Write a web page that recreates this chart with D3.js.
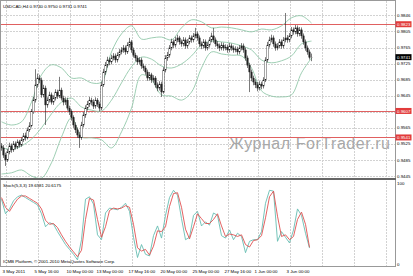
<!DOCTYPE html>
<head>
    <meta charset='utf-8'>
    <title>USDCAD,H4</title>
    <script src='https://d3js.org/d3.v7.min.js'></script>
    <style>
        html, body {
            margin: 0px;
            padding: 0px;
            background: #fff;
        }
        svg { display: block; }
        text { font-family: 'Liberation Sans', Arial, sans-serif; }
    </style>
</head>
<body>
<div id='chart'></div>
<script>
    // H4 candles, oldest first (open = previous close)
    var firstOpen = 0.9520;
    var closes = [0.9515,0.9497,0.9485,0.9505,0.9520,0.9510,0.9525,0.9517,0.9530,0.9522,
        0.9535,0.9545,0.9540,0.9560,0.9570,0.9605,0.9634,0.9672,0.9689,0.9684,
        0.9647,0.9664,0.9622,0.9634,0.9647,0.9629,0.9639,0.9654,0.9644,0.9659,
        0.9639,0.9629,0.9634,0.9614,0.9605,0.9590,0.9572,0.9560,0.9547,0.9540,
        0.9572,0.9597,0.9614,0.9624,0.9634,0.9629,0.9619,0.9634,0.9624,0.9614,
        0.9672,0.9704,0.9721,0.9734,0.9729,0.9739,0.9744,0.9734,0.9746,0.9754,
        0.9759,0.9764,0.9754,0.9771,0.9779,0.9759,0.9746,0.9739,0.9729,0.9734,
        0.9719,0.9714,0.9704,0.9689,0.9697,0.9684,0.9689,0.9672,0.9664,0.9674,
        0.9654,0.9709,0.9739,0.9746,0.9764,0.9779,0.9771,0.9784,0.9789,0.9779,
        0.9774,0.9784,0.9769,0.9779,0.9789,0.9784,0.9794,0.9799,0.9789,0.9774,
        0.9769,0.9779,0.9764,0.9771,0.9784,0.9794,0.9784,0.9774,0.9769,0.9764,
        0.9771,0.9764,0.9766,0.9759,0.9769,0.9764,0.9759,0.9761,0.9754,0.9764,
        0.9769,0.9759,0.9739,0.9721,0.9704,0.9689,0.9679,0.9672,0.9664,0.9674,
        0.9669,0.9684,0.9734,0.9771,0.9784,0.9789,0.9774,0.9764,0.9769,0.9779,
        0.9769,0.9784,0.9789,0.9784,0.9794,0.9809,0.9804,0.9814,0.9799,0.9809,
        0.9794,0.9779,0.9764,0.9754,0.9740,0.9741];
    var highs = [0.9527,0.9522,0.9503,0.9512,0.9528,0.9526,0.9532,0.9531,0.9536,0.9535,
        0.9541,0.9552,0.9553,0.9566,0.9579,0.9612,0.9642,0.9711,0.9700,0.9697,
        0.9690,0.9672,0.9670,0.9641,0.9655,0.9653,0.9646,0.9661,0.9660,0.9692,
        0.9665,0.9645,0.9641,0.9640,0.9620,0.9611,0.9596,0.9579,0.9566,0.9555,
        0.9580,0.9604,0.9621,0.9632,0.9642,0.9640,0.9636,0.9641,0.9639,0.9630,
        0.9680,0.9712,0.9729,0.9742,0.9740,0.9747,0.9751,0.9750,0.9753,0.9761,
        0.9766,0.9771,0.9770,0.9778,0.9789,0.9784,0.9765,0.9752,0.9745,0.9741,
        0.9740,0.9725,0.9720,0.9710,0.9704,0.9702,0.9696,0.9694,0.9678,0.9681,
        0.9680,0.9716,0.9746,0.9754,0.9771,0.9787,0.9785,0.9792,0.9797,0.9794,
        0.9785,0.9791,0.9790,0.9786,0.9796,0.9795,0.9801,0.9814,0.9805,0.9795,
        0.9780,0.9786,0.9785,0.9778,0.9791,0.9802,0.9814,0.9790,0.9781,0.9775,
        0.9778,0.9777,0.9773,0.9772,0.9776,0.9775,0.9770,0.9768,0.9767,0.9771,
        0.9776,0.9775,0.9765,0.9745,0.9727,0.9710,0.9695,0.9686,0.9679,0.9681,
        0.9680,0.9691,0.9741,0.9779,0.9792,0.9797,0.9795,0.9780,0.9776,0.9786,
        0.9785,0.9791,0.9851,0.9796,0.9801,0.9816,0.9815,0.9821,0.9820,0.9816,
        0.9815,0.9800,0.9785,0.9770,0.9760,0.9750];
    var lows = [0.9508,0.9490,0.9470,0.9480,0.9499,0.9503,0.9505,0.9511,0.9512,0.9516,
        0.9518,0.9530,0.9533,0.9536,0.9555,0.9566,0.9600,0.9628,0.9665,0.9676,
        0.9640,0.9641,0.9572,0.9615,0.9628,0.9623,0.9622,0.9633,0.9637,0.9639,
        0.9633,0.9621,0.9622,0.9608,0.9597,0.9583,0.9565,0.9552,0.9540,0.9515,
        0.9535,0.9566,0.9590,0.9608,0.9617,0.9621,0.9612,0.9613,0.9617,0.9606,
        0.9609,0.9667,0.9697,0.9715,0.9721,0.9723,0.9733,0.9727,0.9728,0.9740,
        0.9748,0.9752,0.9747,0.9749,0.9765,0.9752,0.9740,0.9731,0.9722,0.9723,
        0.9712,0.9707,0.9697,0.9682,0.9683,0.9677,0.9678,0.9665,0.9656,0.9658,
        0.9642,0.9650,0.9703,0.9732,0.9740,0.9758,0.9764,0.9765,0.9778,0.9772,
        0.9767,0.9768,0.9762,0.9763,0.9773,0.9777,0.9778,0.9788,0.9782,0.9767,
        0.9761,0.9763,0.9757,0.9758,0.9765,0.9778,0.9777,0.9767,0.9762,0.9756,
        0.9758,0.9757,0.9758,0.9752,0.9753,0.9757,0.9752,0.9753,0.9747,0.9748,
        0.9758,0.9752,0.9732,0.9714,0.9654,0.9681,0.9671,0.9664,0.9656,0.9658,
        0.9661,0.9663,0.9679,0.9728,0.9765,0.9778,0.9767,0.9757,0.9758,0.9763,
        0.9762,0.9763,0.9778,0.9777,0.9778,0.9788,0.9797,0.9798,0.9792,0.9793,
        0.9787,0.9772,0.9757,0.9747,0.9735,0.9731];

    // Bollinger bands read every 5 bars
    var bandStep = 5;
    var bandUpper = [0.9580,0.9572,0.9580,0.9629,0.9697,0.9722,0.9714,0.9689,0.9689,0.9677,
        0.9679,0.9754,0.9799,0.9819,0.9786,0.9789,0.9791,0.9784,0.9814,0.9834,
        0.9829,0.9814,0.9816,0.9814,0.9809,0.9804,0.9811,0.9809,0.9819,0.9839,0.9844,0.9826];
    var bandMiddle = [0.9515,0.9512,0.9520,0.9537,0.9565,0.9600,0.9629,0.9639,0.9617,0.9609,
        0.9607,0.9634,0.9677,0.9717,0.9741,0.9736,0.9719,0.9714,0.9724,0.9744,
        0.9771,0.9781,0.9779,0.9776,0.9769,0.9759,0.9734,0.9727,0.9732,0.9744,0.9774,0.9781];
    var bandLower = [0.9450,0.9453,0.9460,0.9445,0.9440,0.9478,0.9542,0.9590,0.9542,0.9540,
        0.9535,0.9515,0.9555,0.9614,0.9697,0.9684,0.9647,0.9644,0.9634,0.9654,
        0.9714,0.9754,0.9749,0.9746,0.9744,0.9714,0.9657,0.9644,0.9642,0.9647,0.9702,0.9739];

    // Stochastic (5,3,3) read every 2 bars
    var stochStep = 2;
    var stochMain = [80,62,68,78,83,85,82,79,76,73, 62,46,51,49,40,32,24,18,12,5,
        30,80,83,74,36,30,63,69,68,67, 70,75,65,33,8,24,12,10,35,47,
        32,60,82,91,85,56,30,33,60,65, 47,52,48,63,60,35,32,42,30,38,
        34,14,28,30,30,40,75,91,90,28, 40,33,26,42,68,60,38,19.66];
    var stochSignal = [82,70,65,73,80,84,84,81,78,75, 68,54,49,50,45,36,28,21,15,9,
        17,55,81,79,55,33,46,66,69,68, 69,72,70,49,20,16,18,11,22,41,
        40,46,71,87,88,70,43,31,46,62, 56,50,50,55,62,47,34,37,36,34,
        36,24,21,29,30,35,57,83,90,59, 34,36,30,34,55,64,49,20.62];

    var priceTicks = [0.9846, 0.9805, 0.9765, 0.9725, 0.9685, 0.9645, 0.9605, 0.9565, 0.9525, 0.9485, 0.9445];
    var levels = [0.9823, 0.9607, 0.9541];
    var lastPrice = 0.9741;
    var gridBars = [2, 18, 34, 49, 65, 81, 97, 113, 128, 144, 160, 176, 192];
    var timeLabels = ['3 May 2011', '5 May 16:00', '10 May 00:00', '13 May 00:00', '17 May 16:00',
        '20 May 00:00', '25 May 00:00', '27 May 16:00', '1 Jun 00:00', '3 Jun 00:00'];

    var width = 413, height = 276;
    var right = 395;
    var svg = d3.select('#chart').append('svg')
        .attr('width', width)
        .attr('height', height);

    var x = d3.scaleLinear().domain([0, closes.length - 1]).range([1.5, 311.5]);
    var y = d3.scaleLinear().domain([0.9445, 0.9846]).range([176, 15]);
    var ys = d3.scaleLinear().domain([0, 100]).range([264, 183]);

    var defs = svg.append('defs');
    defs.append('clipPath').attr('id', 'clipMain')
        .append('rect').attr('x', 0).attr('y', 1).attr('width', right).attr('height', 177);
    defs.append('clipPath').attr('id', 'clipStoch')
        .append('rect').attr('x', 0).attr('y', 181).attr('width', right).attr('height', 85);

    // grid
    var grid = svg.append('g')
        .attr('stroke', '#d2d2d2')
        .attr('stroke-dasharray', '2,1')
        .attr('stroke-width', 1);
    grid.selectAll('line.v')
        .data(gridBars)
        .enter().append('line')
        .attr('x1', function(d) { return Math.round(x(d)) + 0.5; })
        .attr('x2', function(d) { return Math.round(x(d)) + 0.5; })
        .attr('y1', 1).attr('y2', 178);
    grid.selectAll('line.vs')
        .data(gridBars)
        .enter().append('line')
        .attr('x1', function(d) { return Math.round(x(d)) + 0.5; })
        .attr('x2', function(d) { return Math.round(x(d)) + 0.5; })
        .attr('y1', 181).attr('y2', 266);
    grid.selectAll('line.h')
        .data(priceTicks)
        .enter().append('line')
        .attr('x1', 1).attr('x2', right)
        .attr('y1', function(d) { return Math.round(y(d)) + 0.5; })
        .attr('y2', function(d) { return Math.round(y(d)) + 0.5; });

    // watermark
    svg.append('text')
        .attr('x', 229)
        .attr('y', 148.5)
        .attr('font-size', 16)
        .attr('textLength', 161)
        .attr('fill', '#a8a8a8')
        .text('Журнал ForTrader.ru');

    var main = svg.append('g').attr('clip-path', 'url(#clipMain)');

    // horizontal levels
    main.selectAll('line.level')
        .data(levels)
        .enter().append('line')
        .attr('x1', 0).attr('x2', right)
        .attr('y1', function(d) { return Math.round(y(d)) + 0.5; })
        .attr('y2', function(d) { return Math.round(y(d)) + 0.5; })
        .attr('stroke', '#e06060')
        .attr('stroke-width', 1);

    // bollinger bands
    var band = d3.line()
        .x(function(d, i) { return x(i * bandStep); })
        .y(function(d) { return y(d); })
        .curve(d3.curveCatmullRom);
    [bandUpper, bandMiddle, bandLower].forEach(function(b) {
        main.append('path')
            .attr('d', band(b))
            .attr('fill', 'none')
            .attr('stroke', '#93c8aa')
            .attr('stroke-width', 0.9);
    });

    // candles
    var bars = closes.map(function(c, i) {
        return { i: i, o: i ? closes[i - 1] : firstOpen, h: highs[i], l: lows[i], c: c };
    });
    main.selectAll('line.wick')
        .data(bars)
        .enter().append('line')
        .attr('x1', function(d) { return x(d.i); })
        .attr('x2', function(d) { return x(d.i); })
        .attr('y1', function(d) { return y(d.h); })
        .attr('y2', function(d) { return y(d.l); })
        .attr('stroke', '#222')
        .attr('stroke-width', 0.6);
    main.selectAll('rect.body')
        .data(bars)
        .enter().append('rect')
        .attr('x', function(d) { return x(d.i) - 0.7; })
        .attr('width', 1.4)
        .attr('y', function(d) { return y(Math.max(d.o, d.c)); })
        .attr('height', function(d) { return Math.max(0.6, Math.abs(y(d.o) - y(d.c))); })
        .attr('fill', function(d) { return d.c >= d.o ? '#fff' : '#222'; })
        .attr('stroke', '#222')
        .attr('stroke-width', 0.4);

    // stochastic
    var stoch = svg.append('g').attr('clip-path', 'url(#clipStoch)');
    var sline = d3.line()
        .x(function(d, i) { return x(i * stochStep); })
        .y(function(d) { return ys(d); });
    stoch.append('path')
        .attr('d', sline(stochMain))
        .attr('fill', 'none')
        .attr('stroke', '#66bdb2')
        .attr('stroke-width', 0.9);
    stoch.append('path')
        .attr('d', sline(stochSignal))
        .attr('fill', 'none')
        .attr('stroke', '#e05050')
        .attr('stroke-width', 0.9);

    // frames
    svg.append('rect')
        .attr('x', 0.5).attr('y', 0.5).attr('width', right).attr('height', 178)
        .attr('fill', 'none').attr('stroke', '#999');
    svg.append('rect')
        .attr('x', 0.5).attr('y', 179.5).attr('width', right).attr('height', 87)
        .attr('fill', 'none').attr('stroke', '#999');
    svg.append('line')
        .attr('x1', 0).attr('x2', right + 1)
        .attr('y1', 179).attr('y2', 179)
        .attr('stroke', '#666').attr('stroke-width', 2);

    // price axis
    var fs = 4.4;
    svg.selectAll('text.price')
        .data(priceTicks.filter(function(d) { return d !== 0.9605; }))
        .enter().append('text')
        .attr('x', 397)
        .attr('y', function(d) { return y(d) + 1.6; })
        .attr('font-size', fs)
        .attr('fill', '#000')
        .text(function(d) { return d.toFixed(4); });

    var tags = levels.map(function(v) { return { v: v, bg: '#e23b3b' }; })
        .concat([{ v: lastPrice, bg: '#000' }]);
    var tag = svg.selectAll('g.tag')
        .data(tags)
        .enter().append('g');
    tag.append('rect')
        .attr('x', 395.5)
        .attr('y', function(d) { return y(d.v) - 3; })
        .attr('width', 16)
        .attr('height', 6)
        .attr('fill', function(d) { return d.bg; });
    tag.append('text')
        .attr('x', 397)
        .attr('y', function(d) { return y(d.v) + 1.6; })
        .attr('font-size', fs)
        .attr('fill', '#fff')
        .text(function(d) { return d.v.toFixed(4); });

    svg.append('text').attr('x', 397).attr('y', ys(100) + 1.6)
        .attr('font-size', fs).text('100');
    svg.append('text').attr('x', 397).attr('y', ys(0) + 1.6)
        .attr('font-size', fs).text('0');

    // time axis
    svg.selectAll('text.time')
        .data(timeLabels)
        .enter().append('text')
        .attr('x', function(d, i) { return x(gridBars[i]) - 3; })
        .attr('y', 273)
        .attr('font-size', fs)
        .text(function(d) { return d; });

    // captions
    svg.append('text').attr('x', 3).attr('y', 8)
        .attr('font-size', fs)
        .text('USDCAD,H4  0.9740 0.9750 0.9731 0.9741');
    svg.append('text').attr('x', 3).attr('y', 186.5)
        .attr('font-size', fs)
        .text('Stoch(5,3,3) 19.6581 20.6175');
    svg.append('text').attr('x', 3).attr('y', 263)
        .attr('font-size', fs)
        .text('ICMB Platform, © 2001-2010 MetaQuotes Software Corp.');
</script>
</body>
